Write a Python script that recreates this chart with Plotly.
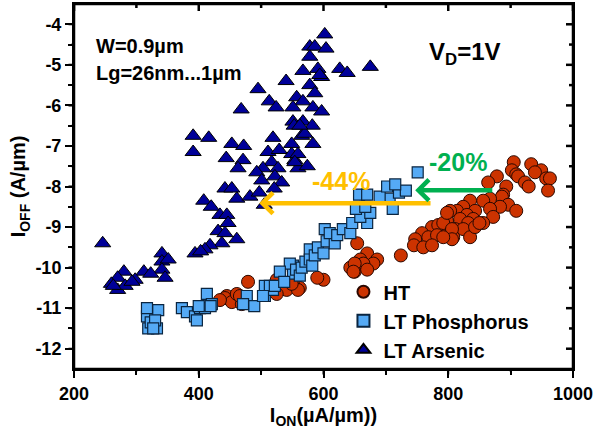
import plotly.graph_objects as go

# ---------------- data ----------------
ht_ion = [905, 933, 949, 939, 902, 909, 912, 957, 963, 960, 923, 929, 878, 864, 893, 888, 886, 896, 909, 883,
          867, 856, 867, 872, 856, 835, 824, 814, 803, 843, 830, 840, 819, 832, 798, 792, 811, 824, 808, 835,
          774, 784, 792, 806, 806, 758, 768, 782, 792, 747, 745, 760, 774, 798, 843, 850,
          724,
          654, 670, 686, 680, 659, 664, 643, 650, 670, 650, 648,
          445, 442, 453, 469, 479, 461, 530, 541, 562, 551, 525, 466, 525, 559, 434, 549, 600, 590]
ht_ioff = [-7.4, -7.45, -7.6, -7.65, -7.6, -7.7, -7.75, -7.8, -7.8, -8.1, -7.9, -8.0, -7.75, -7.9, -8.0, -8.2, -8.25, -8.45, -8.6, -8.5,
           -8.3, -8.35, -8.55, -8.75, -8.9, -8.35, -8.5, -8.6, -8.6, -8.6, -8.7, -8.8, -8.8, -8.9, -8.85, -8.95, -9.05, -9.05, -9.25, -9.25,
           -9.0, -8.95, -8.9, -9.05, -9.3, -9.15, -9.25, -9.2, -9.25, -9.3, -9.45, -9.5, -9.45, -8.65, -9.0, -8.9,
           -9.7,
           -9.4, -9.65, -9.8, -9.9, -9.8, -9.9, -10.0, -10.1, -10.05, -9.9, -10.1,
           -10.7, -10.75, -10.85, -10.9, -10.35, -10.65, -10.5, -10.55, -10.5, -10.4, -10.65, -10.7, -10.3, -10.55, -10.8, -10.4, -10.3, -10.25]

lp_ion = [317, 319, 335, 333, 317, 323, 330, 327,
          373, 381, 394, 397, 402, 410, 413, 421, 400, 419,
          477, 489, 471, 506, 506, 519, 514, 522, 503,
          551, 551, 546, 530, 556, 537, 562, 578, 565, 571, 578, 582, 586, 591, 600, 605, 618, 602, 610, 622, 631,
          643, 646, 670, 659, 675, 652, 667, 711, 706, 657, 670, 690, 721, 732, 702, 715, 751]
lp_ioff = [-11.2, -11.5, -11.05, -11.5, -11.0, -11.35, -11.3, -11.5,
           -11.0, -11.1, -11.2, -11.3, -11.0, -11.0, -10.65, -10.9, -10.95, -10.95,
           -10.7, -10.95, -10.9, -10.45, -10.7, -10.55, -10.45, -10.45, -10.7,
           -9.95, -10.15, -9.9, -10.1, -10.05, -10.35, -10.2, -9.55, -10.0, -9.85, -9.8, -9.95, -9.7, -9.5, -9.65, -9.35, -9.4, -9.05, -9.15, -9.2, -9.05,
           -9.15, -8.9, -8.9, -8.75, -8.65, -8.55, -8.5, -8.55, -8.3, -8.2, -8.2, -8.25, -8.15, -8.1, -8.0, -7.95, -7.65]

la_ion = [602, 578, 586, 604, 578, 567, 591, 597, 626, 638, 675, 540, 495, 578, 513, 524, 468, 557, 567, 586,
          551, 583, 597, 551, 567, 582, 553, 565, 594, 570, 562, 554, 559,
          391, 416, 391, 453, 472, 444, 471, 463, 519, 511, 529, 549, 549, 559, 583, 554, 574, 517, 503, 493, 527,
          501, 522, 533, 521, 442, 453, 461, 482, 497, 408, 420, 505, 434, 445,
          246, 447, 431, 442, 461, 437, 418, 410, 394, 403, 341, 341, 351, 341, 346, 312, 323, 280, 270, 260,
          298, 270, 282, 293, 263]
la_ioff = [-4.25, -4.55, -4.55, -4.6, -4.8, -5.15, -5.1, -5.3, -5.1, -5.2, -5.05, -5.4, -5.6, -5.5, -5.9, -6.05, -6.1, -5.8, -5.9, -5.7,
           -6.05, -6.05, -6.15, -6.4, -6.4, -6.5, -6.5, -6.75, -5.25, -6.7, -6.5, -7.35, -7.55,
           -6.75, -6.8, -7.15, -6.95, -7.0, -7.3, -7.35, -7.55, -6.8, -7.15, -7.1, -6.95, -7.2, -7.2, -6.95, -7.4, -7.5, -7.4, -7.55, -7.65, -7.55,
           -7.85, -7.75, -7.9, -8.05, -8.05, -8.05, -8.3, -8.25, -8.15, -8.35, -8.5, -8.45, -8.7, -8.7,
           -9.4, -8.9, -9.1, -9.15, -9.3, -9.4, -9.45, -9.55, -9.65, -9.6, -9.65, -9.85, -9.8, -10.05, -10.25, -10.1, -10.15, -10.1, -10.25, -10.4,
           -10.3, -10.55, -10.45, -10.35, -10.45]

x_range = [200, 1000]
y_range = [-12.5, -3.5]
x_ticks = [200, 400, 600, 800, 1000]
x_ticktext = ["200", "400", "600", "800", "1000"]
x_minor = [300, 500, 700, 900]
y_ticks = [-12, -11, -10, -9, -8, -7, -6, -5, -4]
y_ticktext = ["-12", "-11", "-10", "-9", "-8", "-7", "-6", "-5", "-4"]
y_minor = [-11.5, -10.5, -9.5, -8.5, -7.5, -6.5, -5.5, -4.5]

# ---------------- figure ----------------
FONT = "Liberation Sans, Arial, sans-serif"
fig = go.Figure()

MAJ, MIN = 7, 4            # tick lengths in px
PLOT_W, PLOT_H = 499, 365  # plot area in px
x0, x1 = x_range
y0, y1 = y_range
ux = (x1 - x0) / PLOT_W    # data units per px
uy = (y1 - y0) / PLOT_H

# frame plus inward top/right ticks as a line trace (drawn through the axes)
fx, fy = [x0, x1, x1, x0, x0], [y0, y0, y1, y1, y0]
for vals, ln in ((x_ticks, MAJ), (x_minor, MIN)):
    for v in vals:
        fx += [None, v, v]
        fy += [None, y1, y1 - ln * uy]
for vals, ln in ((y_ticks, MAJ), (y_minor, MIN)):
    for v in vals:
        fx += [None, x1, x1 - ln * ux]
        fy += [None, v, v]
fig.add_trace(go.Scatter(x=fx, y=fy, mode="lines", line=dict(color="black", width=2.5),
                         showlegend=False, hoverinfo="skip", connectgaps=False))

fig.add_trace(go.Scatter(
    x=la_ion, y=la_ioff, mode="markers", name="LT Arsenic", legendrank=3,
    marker=dict(symbol="triangle-up", size=14, color="#000099", line=dict(color="#000000", width=1))))
fig.add_trace(go.Scatter(
    x=ht_ion, y=ht_ioff, mode="markers", name="HT", legendrank=1,
    marker=dict(symbol="circle", size=13, color="#CC3300", line=dict(color="#2a0800", width=1))))
fig.add_trace(go.Scatter(
    x=lp_ion, y=lp_ioff, mode="markers", name="LT Phosphorus", legendrank=2,
    marker=dict(symbol="square", size=11, color="#55AAF5", line=dict(color="#0a2540", width=1.2))))

fig.update_layout(
    template="simple_white",
    width=595, height=441,
    margin=dict(l=74, r=22, t=4, b=72, autoexpand=False),
    paper_bgcolor="white", plot_bgcolor="white",
    font=dict(family=FONT, color="black", size=18),
    showlegend=True,
    legend=dict(x=0.54, y=0.265, xanchor="left", yanchor="top",
                bgcolor="rgba(0,0,0,0)", font=dict(size=20, family=FONT, weight="bold"),
                itemsizing="constant", tracegroupgap=0),
    xaxis=dict(range=x_range, tickmode="array", tickvals=x_ticks, ticktext=x_ticktext,
               ticks="outside", showline=True, mirror=True, linecolor="black", linewidth=2,
               tickcolor="black", tickwidth=2, ticklen=MAJ, showgrid=False, zeroline=False,
               minor=dict(tickmode="array", tickvals=x_minor, ticks="outside", ticklen=MIN, tickwidth=2, tickcolor="black"),
               tickfont=dict(size=18, family=FONT, weight="bold"),
               title=dict(text="I<sub>ON</sub>(µA/µm))", font=dict(size=20, family=FONT, weight="bold"), standoff=0)),
    yaxis=dict(range=y_range, tickmode="array", tickvals=y_ticks, ticktext=y_ticktext,
               ticks="outside", showline=True, mirror=True, linecolor="black", linewidth=2,
               tickcolor="black", tickwidth=2, ticklen=MAJ, showgrid=False, zeroline=False,
               minor=dict(tickmode="array", tickvals=y_minor, ticks="outside", ticklen=MIN, tickwidth=2, tickcolor="black"),
               tickfont=dict(size=18, family=FONT, weight="bold"),
               title=dict(text="I<sub>OFF</sub> (A/µm)", font=dict(size=20, family=FONT, weight="bold"), standoff=4)),
)

# outward bottom/left ticks as head-less annotation arrows (outside the clipped plot area)
def seg(**kw):
    base = dict(xref="x", yref="y", text="", showarrow=True, arrowhead=0, standoff=0, startstandoff=0,
                arrowcolor="black", arrowwidth=2)
    base.update(kw)
    fig.add_annotation(**base)

for vals, ln in ((x_ticks, MAJ), (x_minor, MIN)):
    for v in vals:
        seg(x=v, y=y0, ax=0, ay=ln)
for vals, ln in ((y_ticks, MAJ), (y_minor, MIN)):
    for v in vals:
        seg(x=x0, y=v, ax=-ln, ay=0)

# arrows
fig.add_annotation(x=497, y=-8.41, ax=774, ay=-8.41, xref="x", yref="y", axref="x", ayref="y",
                   text="", showarrow=True, arrowhead=4, arrowsize=0.9, arrowwidth=4.5, arrowcolor="#FFC000")
fig.add_annotation(x=747, y=-8.09, ax=873, ay=-8.09, xref="x", yref="y", axref="x", ayref="y",
                   text="", showarrow=True, arrowhead=4, arrowsize=0.9, arrowwidth=4.5, arrowcolor="#00B050")

# text annotations
fig.add_annotation(x=628, y=-7.87, xref="x", yref="y", text="<b>-44%</b>", showarrow=False,
                   font=dict(size=25, color="#FFC000", family=FONT))
fig.add_annotation(x=815, y=-7.4, xref="x", yref="y", text="<b>-20%</b>", showarrow=False,
                   font=dict(size=25, color="#00B050", family=FONT))
fig.add_annotation(x=232, y=-4.54, xref="x", yref="y", xanchor="left", text="<b>W=0.9µm</b>", showarrow=False,
                   font=dict(size=20, color="black", family=FONT))
fig.add_annotation(x=232, y=-5.21, xref="x", yref="y", xanchor="left", text="<b>Lg=26nm...1µm</b>", showarrow=False,
                   font=dict(size=20, color="black", family=FONT))
fig.add_annotation(x=766, y=-4.71, xref="x", yref="y", xanchor="left", text="<b>V<sub>D</sub>=1V</b>", showarrow=False,
                   font=dict(size=24, color="black", family=FONT))

fig.write_html("out.html", config={"displayModeBar": False},
               post_script="document.body.style.margin='0';")
